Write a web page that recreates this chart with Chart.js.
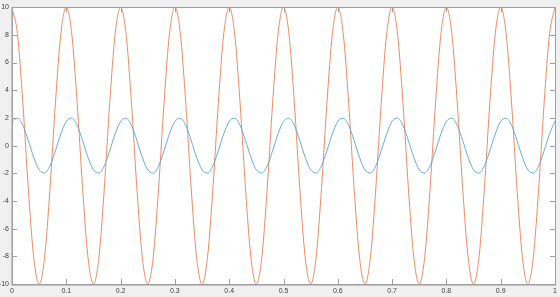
<!DOCTYPE html>
<html>
<head>
<meta charset="utf-8">
<script src="https://cdn.jsdelivr.net/npm/chart.js@4/dist/chart.umd.min.js"></script>
<style>
  html, body { margin: 0; padding: 0; background: #f0f0f0; }
  #wrap { width: 560px; height: 297px; }
</style>
</head>
<body>
<div id="wrap"><canvas id="myChart"></canvas></div>
<script>
// sample positions (time axis)
const xs = [0.00,0.01,0.02,0.03,0.04,0.05,0.06,0.07,0.08,0.09,
  0.10,0.11,0.12,0.13,0.14,0.15,0.16,0.17,0.18,0.19,
  0.20,0.21,0.22,0.23,0.24,0.25,0.26,0.27,0.28,0.29,
  0.30,0.31,0.32,0.33,0.34,0.35,0.36,0.37,0.38,0.39,
  0.40,0.41,0.42,0.43,0.44,0.45,0.46,0.47,0.48,0.49,
  0.50,0.51,0.52,0.53,0.54,0.55,0.56,0.57,0.58,0.59,
  0.60,0.61,0.62,0.63,0.64,0.65,0.66,0.67,0.68,0.69,
  0.70,0.71,0.72,0.73,0.74,0.75,0.76,0.77,0.78,0.79,
  0.80,0.81,0.82,0.83,0.84,0.85,0.86,0.87,0.88,0.89,
  0.90,0.91,0.92,0.93,0.94,0.95,0.96,0.97,0.98,0.99,1.00]

// small blue wave
const blueVals = [1.75,1.98,1.46,0.37,-0.85,-1.75,-1.98,-1.46,-0.37,0.85,
  1.75,1.98,1.46,0.37,-0.85,-1.75,-1.98,-1.46,-0.37,0.85,
  1.75,1.98,1.46,0.37,-0.85,-1.75,-1.98,-1.46,-0.37,0.85,
  1.75,1.98,1.46,0.37,-0.85,-1.75,-1.98,-1.46,-0.37,0.85,
  1.75,1.98,1.46,0.37,-0.85,-1.75,-1.98,-1.46,-0.37,0.85,
  1.75,1.98,1.46,0.37,-0.85,-1.75,-1.98,-1.46,-0.37,0.85,
  1.75,1.98,1.46,0.37,-0.85,-1.75,-1.98,-1.46,-0.37,0.85,
  1.75,1.98,1.46,0.37,-0.85,-1.75,-1.98,-1.46,-0.37,0.85,
  1.75,1.98,1.46,0.37,-0.85,-1.75,-1.98,-1.46,-0.37,0.85,
  1.75,1.98,1.46,0.37,-0.85,-1.75,-1.98,-1.46,-0.37,0.85,1.75]

// big orange wave
const orangeVals = [10,8.09,3.09,-3.09,-8.09,-10,-8.09,-3.09,3.09,8.09,
  10,8.09,3.09,-3.09,-8.09,-10,-8.09,-3.09,3.09,8.09,
  10,8.09,3.09,-3.09,-8.09,-10,-8.09,-3.09,3.09,8.09,
  10,8.09,3.09,-3.09,-8.09,-10,-8.09,-3.09,3.09,8.09,
  10,8.09,3.09,-3.09,-8.09,-10,-8.09,-3.09,3.09,8.09,
  10,8.09,3.09,-3.09,-8.09,-10,-8.09,-3.09,3.09,8.09,
  10,8.09,3.09,-3.09,-8.09,-10,-8.09,-3.09,3.09,8.09,
  10,8.09,3.09,-3.09,-8.09,-10,-8.09,-3.09,3.09,8.09,
  10,8.09,3.09,-3.09,-8.09,-10,-8.09,-3.09,3.09,8.09,
  10,8.09,3.09,-3.09,-8.09,-10,-8.09,-3.09,3.09,8.09,10]

const xMin = 0, xMax = 1, xStep = 0.1
const yMin = -10, yMax = 10, yStep = 2

function pts(vals) {
  return vals.map((v, i) => ({x: xs[i], y: v}))
}

// grey figure + white axes box, inward ticks on all sides like matlab
const boxPlugin = {
  id: 'box',
  beforeDraw(chart) {
    const c = chart.ctx
    const a = chart.chartArea
    c.save()
    c.fillStyle = '#f0f0f0'
    c.fillRect(0, 0, chart.width, chart.height)
    c.fillStyle = '#ffffff'
    c.fillRect(a.left, a.top, a.right - a.left, a.bottom - a.top)
    c.restore()
  },
  afterDraw(chart) {
    const c = chart.ctx
    const a = chart.chartArea
    const sx = chart.scales.x
    const sy = chart.scales.y
    const len = 5
    c.save()
    c.strokeStyle = '#a0a0a0'
    c.lineWidth = 1
    c.beginPath()
    sx.ticks.forEach(t => {
      const px = Math.round(sx.getPixelForValue(t.value)) + 0.5
      c.moveTo(px, a.bottom); c.lineTo(px, a.bottom - len)
      c.moveTo(px, a.top); c.lineTo(px, a.top + len)
    })
    sy.ticks.forEach(t => {
      const py = Math.round(sy.getPixelForValue(t.value)) + 0.5
      c.moveTo(a.left, py); c.lineTo(a.left + len, py)
      c.moveTo(a.right, py); c.lineTo(a.right - len, py)
    })
    c.stroke()
    c.strokeRect(Math.round(a.left) + 0.5, Math.round(a.top) + 0.5,
      Math.round(a.right - a.left), Math.round(a.bottom - a.top))
    // left and bottom axis a bit heavier
    c.strokeStyle = '#c4c4c4'
    c.beginPath()
    c.moveTo(Math.round(a.left) - 0.5, a.top); c.lineTo(Math.round(a.left) - 0.5, a.bottom + 1)
    c.moveTo(a.left - 1, Math.round(a.bottom) + 1.5); c.lineTo(a.right + 1, Math.round(a.bottom) + 1.5)
    c.stroke()
    c.restore()
  }
}

const ctx = document.getElementById('myChart')
const chart = new Chart(ctx, {
  type: 'line',
  data: {
    datasets: [
      {label: 'a', data: pts(blueVals), borderColor: '#64abdf', borderWidth: 1, pointRadius: 0, cubicInterpolationMode: 'monotone'},
      {label: 'b', data: pts(orangeVals), borderColor: '#e98d66', borderWidth: 1, pointRadius: 0, cubicInterpolationMode: 'monotone'}
    ]
  },
  options: {
    responsive: true,
    maintainAspectRatio: false,
    animation: false,
    layout: {padding: {left: 0, top: 5, right: 5, bottom: 0}},
    plugins: {legend: {display: false}, tooltip: {enabled: false}},
    scales: {
      x: {
        type: 'linear', min: xMin, max: xMax,
        grid: {display: false, drawTicks: false},
        border: {display: false},
        ticks: {
          stepSize: xStep, padding: 3, maxRotation: 0, autoSkip: false,
          color: '#404040', font: {family: 'Liberation Sans', size: 7},
          callback: v => String(Number(v.toFixed(1)))
        },
        afterFit: s => { s.height = 13 }
      },
      y: {
        min: yMin, max: yMax,
        grid: {display: false, drawTicks: false},
        border: {display: false},
        ticks: {
          stepSize: yStep, padding: 3,
          color: '#404040', font: {family: 'Liberation Sans', size: 7}
        },
        afterFit: s => { s.width = 12 }
      }
    }
  },
  plugins: [boxPlugin]
})
</script>
</body>
</html>
